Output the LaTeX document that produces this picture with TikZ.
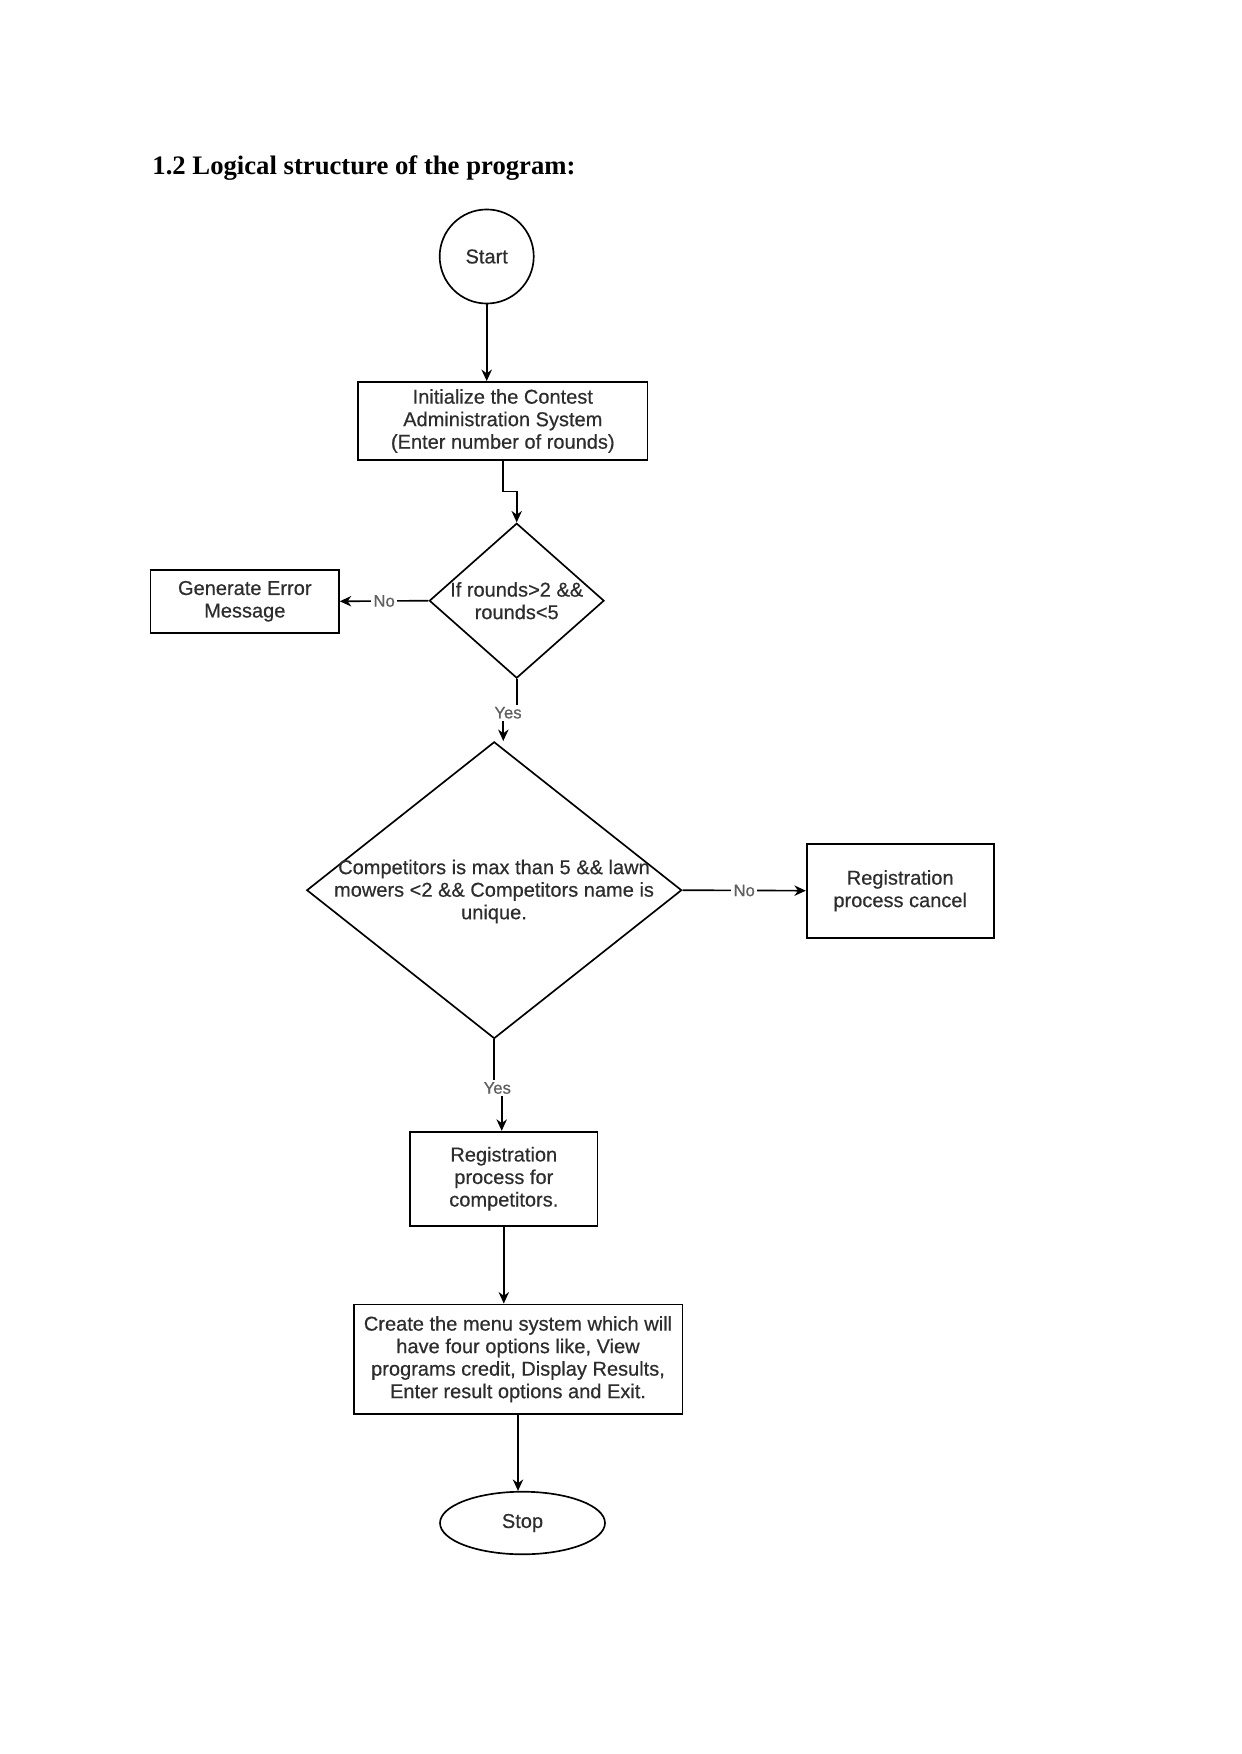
\documentclass[tikz,border=0pt]{standalone}
\usepackage{fontspec}
\setmainfont{Liberation Serif}
\newfontfamily\diofont[FakeBold=0.5]{Liberation Sans}
\usetikzlibrary{arrows.meta,positioning,calc,shapes.geometric}
\definecolor{txtgray}{RGB}{45,45,45}
\definecolor{lblgray}{RGB}{95,95,95}

\begin{document}
\begin{tikzpicture}[x=0.4795pt,y=-0.4795pt,>={Stealth[length=5.5pt,width=5pt]},
  box/.style={draw,line width=0.8pt,inner sep=1pt,align=center,text=txtgray,
    font=\diofont\fontsize{9.6}{10.8}\selectfont},
  dec/.style={draw,diamond,line width=0.8pt,inner sep=0pt},
  dectext/.style={align=center,inner sep=0pt,text=txtgray,
    font=\diofont\fontsize{9.6}{10.8}\selectfont},
  lbl/.style={fill=white,inner sep=1pt,text=lblgray,
    font=\diofont\fontsize{8}{9}\selectfont},
  flow/.style={->,line width=0.8pt}]
  \useasboundingbox (0,0) rectangle (1241,1754);
  % heading
  \node[anchor=base west,inner sep=0pt,font=\bfseries\fontsize{12.8}{15}\selectfont]
    (title) at (152,175) {1.2 Logical structure of the program:};
  % start / init
  \node[box,circle,minimum size=45.1pt] (start) at (486.7,256.5) {Start};
  \node[box,minimum width=138.6pt,minimum height=37.5pt] (init) at (502.8,421)
    {Initialize the Contest\\Administration System\\(Enter number of rounds)};
  % first check
  \node[dec,minimum width=83.8pt,minimum height=74.3pt] (d1) at (516.7,600.7) {};
  \node[dectext] (d1t) at (d1) {If rounds>2 \&\&\\rounds<5};
  \node[box,minimum width=90.3pt,minimum height=30.1pt] (err) at (244.8,601.3)
    {Generate Error\\Message};
  % second check
  \node[dec,minimum width=179.8pt,minimum height=142.3pt] (d2) at (494.2,890.2) {};
  \node[dectext] (d2t) at (494,891.5)
    {Competitors is max than 5 \&\& lawn\\mowers <2 \&\& Competitors name is\\unique.};
  \node[box,minimum width=89.7pt,minimum height=45.1pt] (cancel) at (900.2,890.7)
    {Registration\\process cancel};
  % registration, menu, stop
  \node[box,minimum width=90pt,minimum height=45.2pt] (reg) at (503.8,1178.8)
    {Registration\\process for\\competitors.};
  \node[box,minimum width=157.6pt,minimum height=52.6pt] (menu) at (518,1359.2)
    {Create the menu system which will\\have four options like, View\\programs credit, Display Results,\\Enter result options and Exit.};
  \node[box,ellipse,minimum width=79.1pt,minimum height=30pt] (stop) at (522.5,1523) {Stop};
  % bends under the yes labels
  \coordinate (y1) at (503.3,712);
  \coordinate (y2) at (501.7,1088);
  % connectors
  \draw[flow] (start) -- (start |- init.north);
  \draw[flow] (init.south) |- ($(init.south)!0.5!(d1.north)$) -| (d1.north);
  \draw[flow] (d1.west) -- (err.east) node[lbl,midway] (no1) {No};
  \draw[flow] (d1.south) |- (y1) -- (y1 |- d2.north);
  \node[lbl] (yes1) at (508,712.7) {Yes};
  \draw[flow] (d2.east) -- (cancel.west) node[lbl,midway] (no2) {No};
  \draw[flow] (d2.south) |- (y2) -- (y2 |- reg.north);
  \node[lbl] (yes2) at (497.3,1088) {Yes};
  \draw[flow] (reg) -- (reg |- menu.north);
  \draw[flow] (menu.south) -- (menu.south |- stop.north);
\end{tikzpicture}
\end{document}
